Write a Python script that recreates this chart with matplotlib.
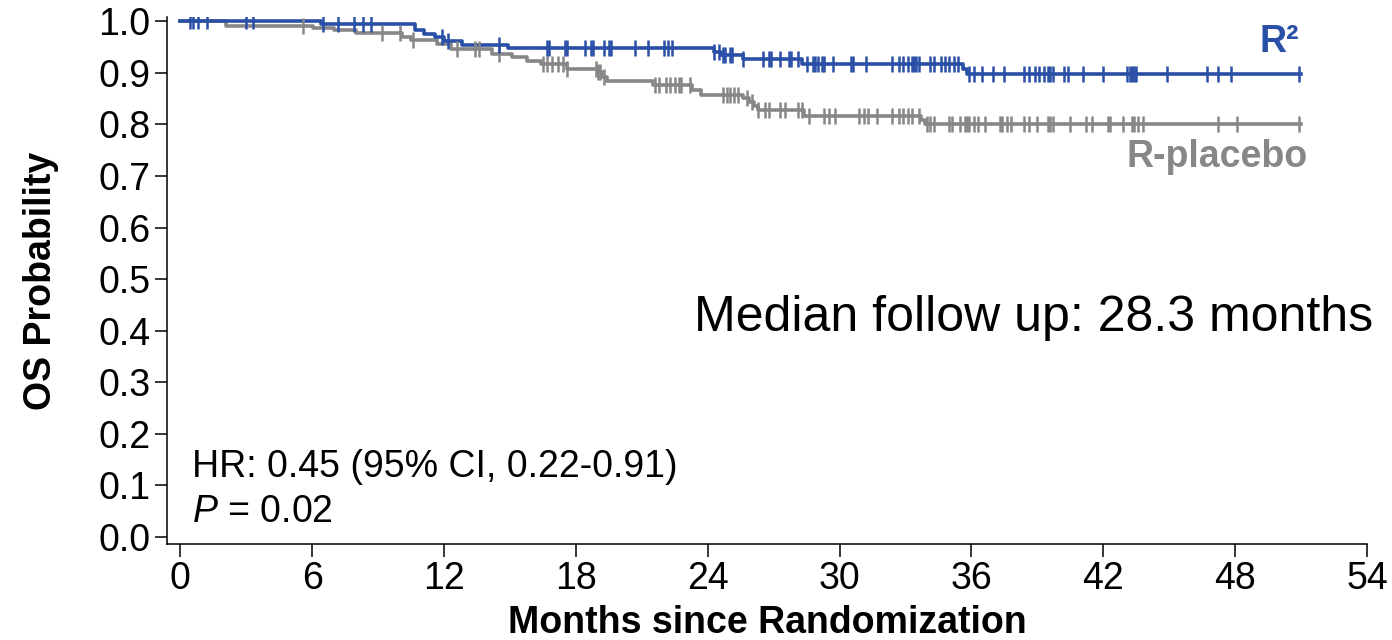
import numpy as np
import matplotlib
matplotlib.use("Agg")
import matplotlib.pyplot as plt

plt.rcParams['font.family'] = ['Liberation Sans', 'DejaVu Sans']
plt.rcParams['mathtext.fontset'] = 'custom'
plt.rcParams['mathtext.rm'] = 'Liberation Sans'
plt.rcParams['mathtext.it'] = 'Liberation Sans:italic'

# Kaplan-Meier steps: event times (months) and survival after each step
r2_t = [0, 6.4, 10.7, 11.1, 11.6, 12.0, 12.8, 14.9, 24.3, 24.6, 25.6, 28.3, 35.6, 35.8]
r2_s = [1.0, 0.995, 0.983, 0.976, 0.969, 0.962, 0.955, 0.948, 0.940, 0.934, 0.928, 0.918, 0.908, 0.898]
r2_end = 51.0
r2_cens = [0.45, 0.6, 0.8, 1.2, 3.0, 3.3, 6.5, 7.2, 7.9, 8.3, 8.7, 11.9, 12.2, 14.5,
           16.7, 16.8, 17.5, 17.6, 18.4, 18.7, 18.8, 19.3, 19.5, 19.6, 20.7, 21.3,
           22.0, 22.2, 22.4, 24.3, 24.5, 24.7, 24.8, 25.0, 25.1, 25.6,
           26.5, 26.8, 26.9, 27.3, 27.7, 27.8, 28.1, 28.5, 28.8, 28.9, 29.0, 29.2,
           29.3, 29.7, 30.5, 30.6, 31.2, 32.4, 32.7, 32.9, 33.1, 33.3, 33.4, 33.5,
           33.6, 34.1, 34.3, 34.6, 34.8, 35.0, 35.2, 35.4, 35.9, 36.1, 36.5, 37.0,
           37.5, 38.4, 38.6, 38.9, 39.1, 39.3, 39.5, 39.6, 39.7, 40.2, 40.4, 41.1,
           42.0, 43.1, 43.2, 43.3, 43.4, 43.5, 44.9, 46.7, 47.2, 47.8, 50.9]

pl_t = [0, 2.1, 6.05, 7.0, 8.0, 10.1, 10.5, 11.7, 12.3, 14.2, 15.1, 15.8, 16.4, 17.6,
        19.0, 19.2, 19.4, 21.5, 23.3, 23.7, 25.6, 25.9, 26.1, 26.3, 28.4, 33.7, 33.9]
pl_s = [1.0, 0.992, 0.988, 0.984, 0.977, 0.970, 0.964, 0.957, 0.946, 0.937, 0.930,
        0.923, 0.917, 0.908, 0.901, 0.892, 0.884, 0.876, 0.866, 0.857, 0.852, 0.843,
        0.836, 0.828, 0.817, 0.809, 0.800]
pl_end = 51.0
pl_cens = [5.6, 9.2, 10.0, 10.6, 12.6, 13.4, 13.6, 14.5, 16.5, 16.7, 16.9, 17.2, 17.4,
           17.6, 18.9, 19.0, 19.1, 19.3, 21.6, 21.8, 22.1, 22.3, 22.5, 22.7, 22.8,
           23.2, 24.7, 24.9, 25.0, 25.2, 25.4, 25.8, 26.0, 26.3, 26.6, 26.8, 27.3,
           27.5, 28.1, 28.3, 28.6, 29.3, 29.5, 29.8, 30.9, 31.1, 31.3, 31.7, 32.4,
           32.7, 32.9, 33.1, 33.3, 33.6, 34.0, 34.1, 34.3, 35.0, 35.1, 35.5, 35.7,
           35.8, 35.9, 36.1, 36.3, 36.6, 37.3, 37.4, 37.6, 37.8, 38.4, 38.6, 39.0,
           39.5, 39.6, 39.7, 40.5, 41.2, 41.5, 42.2, 42.3, 42.9, 43.3, 43.4, 43.6,
           43.8, 47.2, 48.1, 50.9]

blue = '#2a4fa6'
gray = '#878787'

fig = plt.figure(figsize=(13.92, 6.4), dpi=100)
ax = fig.add_axes([0.12, 0.15, 0.862, 0.823])


def km(t, s, end, cens, color):
    tt = list(t) + [end]
    ss = list(s) + [s[-1]]
    ax.step(tt, ss, where='post', color=color, lw=2.6, zorder=3)
    idx = np.searchsorted(t, cens, side='right') - 1
    ax.plot(cens, np.array(s)[idx], ls='none', marker='|', ms=11, mew=1.8,
            color=color, zorder=4)


km(pl_t, pl_s, pl_end, pl_cens, gray)
km(r2_t, r2_s, r2_end, r2_cens, blue)

ax.set_xlim(-0.6, 54)
ax.set_ylim(-0.014, 1.008)
ax.set_xticks(np.arange(0, 55, 6))
ax.set_yticks(np.arange(0, 1.01, 0.1))
ax.set_yticklabels([f"{v:.1f}" for v in np.arange(0, 1.01, 0.1)])
ax.spines['top'].set_visible(False)
ax.spines['right'].set_visible(False)
for sp in ('left', 'bottom'):
    ax.spines[sp].set_linewidth(1.1)
ax.tick_params(direction='out', length=9, width=1.1, labelsize=27, pad=3)

ax.set_xlabel('Months since Randomization', fontsize=27, fontweight='bold', labelpad=6)
ax.set_ylabel('OS Probability', fontsize=27, fontweight='bold', labelpad=28)

ax.text(50.9, 0.94, 'R²', color=blue, fontsize=27, fontweight='bold', ha='right', va='baseline')
ax.text(51.3, 0.736, 'R-placebo', color=gray, fontsize=27, fontweight='bold', ha='right', va='center')
ax.text(54.3, 0.424, 'Median follow up: 28.3 months', fontsize=36, ha='right', va='center')
ax.text(0.55, 0.136, 'HR: 0.45 (95% CI, 0.22-0.91)', fontsize=27, ha='left', va='center')
ax.text(0.55, 0.048, r'$P$ = 0.02', fontsize=27, ha='left', va='center')

fig.savefig('out.png', dpi=100)
